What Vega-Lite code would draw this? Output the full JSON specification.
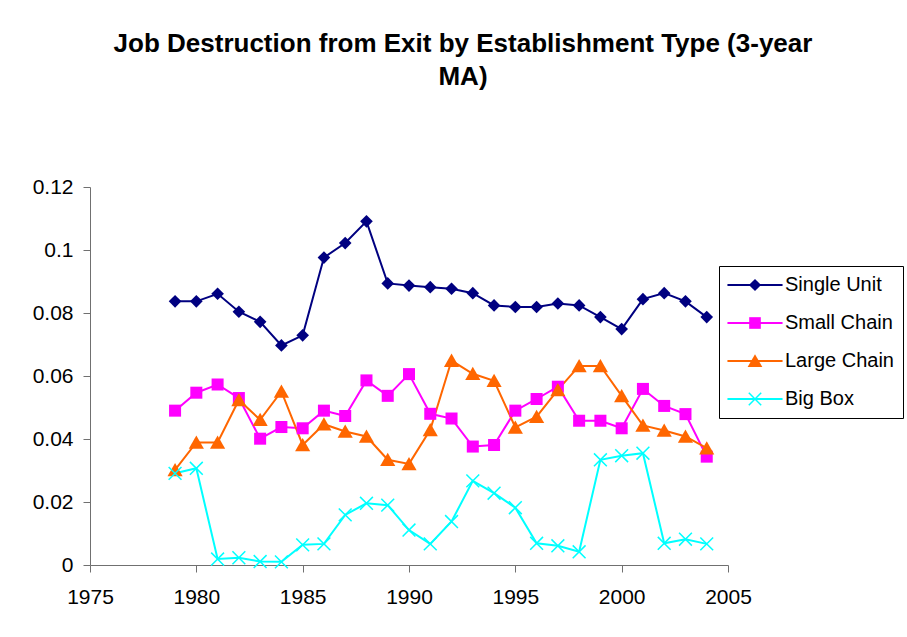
{
  "$schema": "https://vega.github.io/schema/vega-lite/v6.json",
  "width": 638,
  "height": 378,
  "autosize": {"type": "none"},
  "padding": {"left": 90, "top": 187, "right": 179, "bottom": 72},
  "background": "white",
  "config": {
    "view": {"stroke": null},
    "font": "Liberation Sans",
    "axis": {
      "grid": false,
      "domainColor": "#707070",
      "tickColor": "#707070",
      "domainWidth": 1,
      "tickWidth": 1,
      "tickSize": 7,
      "labelFont": "Liberation Sans",
      "labelFontSize": 21,
      "labelColor": "#000000",
      "title": null
    }
  },
  "title": {
    "text": ["Job Destruction from Exit by Establishment Type (3-year", "MA)"],
    "font": "Liberation Sans",
    "fontSize": 26,
    "fontWeight": "bold",
    "color": "#000000",
    "anchor": "middle",
    "dx": 54,
    "offset": 86,
    "lineHeight": 33
  },
  "data": {
    "values": [
      {"year": 1979, "series": "Single Unit", "value": 0.0837},
      {"year": 1980, "series": "Single Unit", "value": 0.0837},
      {"year": 1981, "series": "Single Unit", "value": 0.0861},
      {"year": 1982, "series": "Single Unit", "value": 0.0804},
      {"year": 1983, "series": "Single Unit", "value": 0.0772},
      {"year": 1984, "series": "Single Unit", "value": 0.0697},
      {"year": 1985, "series": "Single Unit", "value": 0.0729},
      {"year": 1986, "series": "Single Unit", "value": 0.0976},
      {"year": 1987, "series": "Single Unit", "value": 0.1022},
      {"year": 1988, "series": "Single Unit", "value": 0.1091},
      {"year": 1989, "series": "Single Unit", "value": 0.0894},
      {"year": 1990, "series": "Single Unit", "value": 0.0887},
      {"year": 1991, "series": "Single Unit", "value": 0.0882},
      {"year": 1992, "series": "Single Unit", "value": 0.0877},
      {"year": 1993, "series": "Single Unit", "value": 0.0863},
      {"year": 1994, "series": "Single Unit", "value": 0.0824},
      {"year": 1995, "series": "Single Unit", "value": 0.0819},
      {"year": 1996, "series": "Single Unit", "value": 0.0819},
      {"year": 1997, "series": "Single Unit", "value": 0.0830},
      {"year": 1998, "series": "Single Unit", "value": 0.0824},
      {"year": 1999, "series": "Single Unit", "value": 0.0787},
      {"year": 2000, "series": "Single Unit", "value": 0.0749},
      {"year": 2001, "series": "Single Unit", "value": 0.0844},
      {"year": 2002, "series": "Single Unit", "value": 0.0863},
      {"year": 2003, "series": "Single Unit", "value": 0.0837},
      {"year": 2004, "series": "Single Unit", "value": 0.0787},
      {"year": 1979, "series": "Small Chain", "value": 0.0490},
      {"year": 1980, "series": "Small Chain", "value": 0.0547},
      {"year": 1981, "series": "Small Chain", "value": 0.0573},
      {"year": 1982, "series": "Small Chain", "value": 0.0530},
      {"year": 1983, "series": "Small Chain", "value": 0.0401},
      {"year": 1984, "series": "Small Chain", "value": 0.0438},
      {"year": 1985, "series": "Small Chain", "value": 0.0434},
      {"year": 1986, "series": "Small Chain", "value": 0.0490},
      {"year": 1987, "series": "Small Chain", "value": 0.0473},
      {"year": 1988, "series": "Small Chain", "value": 0.0586},
      {"year": 1989, "series": "Small Chain", "value": 0.0537},
      {"year": 1990, "series": "Small Chain", "value": 0.0606},
      {"year": 1991, "series": "Small Chain", "value": 0.0480},
      {"year": 1992, "series": "Small Chain", "value": 0.0465},
      {"year": 1993, "series": "Small Chain", "value": 0.0376},
      {"year": 1994, "series": "Small Chain", "value": 0.0381},
      {"year": 1995, "series": "Small Chain", "value": 0.0490},
      {"year": 1996, "series": "Small Chain", "value": 0.0527},
      {"year": 1997, "series": "Small Chain", "value": 0.0566},
      {"year": 1998, "series": "Small Chain", "value": 0.0458},
      {"year": 1999, "series": "Small Chain", "value": 0.0458},
      {"year": 2000, "series": "Small Chain", "value": 0.0434},
      {"year": 2001, "series": "Small Chain", "value": 0.0559},
      {"year": 2002, "series": "Small Chain", "value": 0.0505},
      {"year": 2003, "series": "Small Chain", "value": 0.0479},
      {"year": 2004, "series": "Small Chain", "value": 0.0344},
      {"year": 1979, "series": "Large Chain", "value": 0.0302},
      {"year": 1980, "series": "Large Chain", "value": 0.0389},
      {"year": 1981, "series": "Large Chain", "value": 0.0389},
      {"year": 1982, "series": "Large Chain", "value": 0.0524},
      {"year": 1983, "series": "Large Chain", "value": 0.0461},
      {"year": 1984, "series": "Large Chain", "value": 0.0551},
      {"year": 1985, "series": "Large Chain", "value": 0.0381},
      {"year": 1986, "series": "Large Chain", "value": 0.0447},
      {"year": 1987, "series": "Large Chain", "value": 0.0424},
      {"year": 1988, "series": "Large Chain", "value": 0.0408},
      {"year": 1989, "series": "Large Chain", "value": 0.0334},
      {"year": 1990, "series": "Large Chain", "value": 0.0321},
      {"year": 1991, "series": "Large Chain", "value": 0.0429},
      {"year": 1992, "series": "Large Chain", "value": 0.0649},
      {"year": 1993, "series": "Large Chain", "value": 0.0607},
      {"year": 1994, "series": "Large Chain", "value": 0.0585},
      {"year": 1995, "series": "Large Chain", "value": 0.0437},
      {"year": 1996, "series": "Large Chain", "value": 0.0471},
      {"year": 1997, "series": "Large Chain", "value": 0.0556},
      {"year": 1998, "series": "Large Chain", "value": 0.0632},
      {"year": 1999, "series": "Large Chain", "value": 0.0632},
      {"year": 2000, "series": "Large Chain", "value": 0.0537},
      {"year": 2001, "series": "Large Chain", "value": 0.0443},
      {"year": 2002, "series": "Large Chain", "value": 0.0427},
      {"year": 2003, "series": "Large Chain", "value": 0.0408},
      {"year": 2004, "series": "Large Chain", "value": 0.0371},
      {"year": 1979, "series": "Big Box", "value": 0.0291},
      {"year": 1980, "series": "Big Box", "value": 0.0307},
      {"year": 1981, "series": "Big Box", "value": 0.0019},
      {"year": 1982, "series": "Big Box", "value": 0.0023},
      {"year": 1983, "series": "Big Box", "value": 0.0011},
      {"year": 1984, "series": "Big Box", "value": 0.0010},
      {"year": 1985, "series": "Big Box", "value": 0.0064},
      {"year": 1986, "series": "Big Box", "value": 0.0067},
      {"year": 1987, "series": "Big Box", "value": 0.0159},
      {"year": 1988, "series": "Big Box", "value": 0.0196},
      {"year": 1989, "series": "Big Box", "value": 0.0190},
      {"year": 1990, "series": "Big Box", "value": 0.0111},
      {"year": 1991, "series": "Big Box", "value": 0.0067},
      {"year": 1992, "series": "Big Box", "value": 0.0138},
      {"year": 1993, "series": "Big Box", "value": 0.0267},
      {"year": 1994, "series": "Big Box", "value": 0.0228},
      {"year": 1995, "series": "Big Box", "value": 0.0182},
      {"year": 1996, "series": "Big Box", "value": 0.0069},
      {"year": 1997, "series": "Big Box", "value": 0.0061},
      {"year": 1998, "series": "Big Box", "value": 0.0042},
      {"year": 1999, "series": "Big Box", "value": 0.0334},
      {"year": 2000, "series": "Big Box", "value": 0.0347},
      {"year": 2001, "series": "Big Box", "value": 0.0355},
      {"year": 2002, "series": "Big Box", "value": 0.0069},
      {"year": 2003, "series": "Big Box", "value": 0.0082},
      {"year": 2004, "series": "Big Box", "value": 0.0067}
    ]
  },
  "encoding": {
    "x": {
      "field": "year",
      "type": "quantitative",
      "scale": {"domain": [1975, 2005], "nice": false, "zero": false},
      "axis": {"values": [1975, 1980, 1985, 1990, 1995, 2000, 2005], "format": "d", "labelPadding": 14, "labelFlush": false, "labelOverlap": false}
    },
    "y": {
      "field": "value",
      "type": "quantitative",
      "scale": {"domain": [0, 0.12], "nice": false},
      "axis": {"values": [0, 0.02, 0.04, 0.06, 0.08, 0.1, 0.12], "format": ".2~f", "labelPadding": 10, "labelFlush": false, "labelOverlap": false}
    }
  },
  "layer": [
    {
      "mark": {"type": "line", "strokeWidth": 2},
      "encoding": {
        "color": {
          "field": "series",
          "type": "nominal",
          "scale": {"domain": ["Single Unit", "Small Chain", "Large Chain", "Big Box"], "range": ["#000080", "#FF00FF", "#FF6600", "#00FFFF"]},
          "legend": {
            "orient": "none",
            "legendX": 629,
            "legendY": 79,
            "title": null,
            "padding": 9,
            "rowPadding": 18,
            "symbolType": "M-4.5,0H4.5",
            "symbolSize": 150,
            "symbolStrokeWidth": 2,
            "symbolOffset": 17,
            "labelOffset": 20,
            "labelFont": "Liberation Sans",
            "labelFontSize": 20,
            "labelColor": "transparent"
          }
        }
      }
    },
    {
      "mark": {"type": "point", "filled": true, "size": 160, "opacity": 1},
      "encoding": {
        "color": {
          "field": "series",
          "type": "nominal",
          "scale": {"domain": ["Single Unit", "Small Chain", "Large Chain", "Big Box"], "range": ["#000080", "#FF00FF", "#FF6600", "#00FFFF"]},
          "legend": {
            "orient": "none",
            "legendX": 629,
            "legendY": 79,
            "title": null,
            "padding": 9,
            "rowPadding": 18,
            "symbolSize": 150,
            "symbolStrokeWidth": 0,
            "symbolOpacity": 1,
            "symbolOffset": 17,
            "labelOffset": 20,
            "labelFont": "Liberation Sans",
            "labelFontSize": 20,
            "labelColor": "#000000",
            "strokeColor": "#000000"
          }
        },
        "shape": {
          "field": "series",
          "type": "nominal",
          "scale": {
            "domain": ["Single Unit", "Small Chain", "Large Chain", "Big Box"],
            "range": [
              "M0,-1L1,0L0,1L-1,0Z",
              "M-0.95,-0.95H0.95V0.95H-0.95Z",
              "M0,-1.1L1.2,1L-1.2,1Z",
              "M-1.1,-0.93L-0.93,-1.1L1.1,0.93L0.93,1.1ZM-1.1,0.93L0.93,-1.1L1.1,-0.93L-0.93,1.1Z"
            ]
          },
          "legend": {
            "orient": "none",
            "legendX": 629,
            "legendY": 79,
            "title": null,
            "padding": 9,
            "rowPadding": 18,
            "symbolSize": 150,
            "symbolStrokeWidth": 0,
            "symbolOpacity": 1,
            "symbolOffset": 17,
            "labelOffset": 20,
            "labelFont": "Liberation Sans",
            "labelFontSize": 20,
            "labelColor": "#000000",
            "strokeColor": "#000000"
          }
        }
      }
    }
  ],
  "resolve": {
    "scale": {"color": "independent"},
    "legend": {"color": "independent", "shape": "independent"}
  }
}
